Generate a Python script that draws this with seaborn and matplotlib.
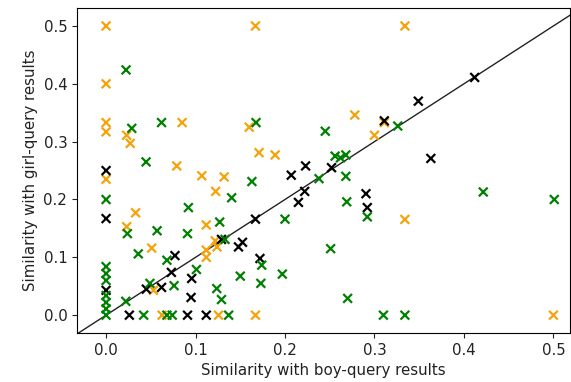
import matplotlib
matplotlib.use("Agg")
import matplotlib.pyplot as plt
import seaborn as sns
import pandas as pd

# Orange group
orange_x = [0, 0.167, 0.334, 0, 0, 0, 0.023, 0.027, 0.085, 0.16, 0.278, 0.311, 0.30,
            0.171, 0.189, 0.079, 0, 0.107, 0.132, 0.1225, 0.033, 0.023, 0.112, 0.051,
            0.122, 0.124, 0.112, 0.112, 0.053, 0.334, 0.0626, 0.1257, 0.167, 0.5]
orange_y = [0.5, 0.5, 0.5, 0.4, 0.333, 0.317, 0.311, 0.297, 0.333, 0.325, 0.346, 0.333, 0.311,
            0.281, 0.277, 0.258, 0.235, 0.241, 0.239, 0.214, 0.177, 0.153, 0.156, 0.116,
            0.1285, 0.118, 0.1125, 0.1, 0.043, 0.1655, 0, 0, 0, 0]

# Black group
black_x = [0.412, 0.349, 0.311, 0.363, 0.223, 0.252, 0.207, 0, 0.222, 0.215, 0.2905, 0.292,
           0, 0.167, 0.129, 0.1525, 0.148, 0.172, 0.077, 0.073, 0.0957, 0.062, 0.045, 0,
           0.095, 0.026, 0.091, 0.112]
black_y = [0.411, 0.37, 0.336, 0.271, 0.258, 0.255, 0.242, 0.25, 0.214, 0.195, 0.21, 0.186,
           0.167, 0.166, 0.131, 0.126, 0.118, 0.098, 0.103, 0.074, 0.0635, 0.048, 0.045, 0.043,
           0.0306, 0, 0, 0]

# Green group
green_x = [0.0223, 0.0287, 0.062, 0.1676, 0.245, 0.326, 0.256, 0.262, 0.268, 0.0447, 0.268,
           0.238, 0.163, 0.1404, 0, 0.092, 0.269, 0.292, 0.4216, 0.501, 0.2, 0.127, 0.057,
           0.091, 0.0238, 0.133, 0.251, 0.036, 0.068, 0.101, 0.174, 0.15, 0.197, 0.173,
           0.049, 0.076, 0.1237, 0.129, 0.27, 0.022,
           0, 0, 0, 0, 0, 0, 0,
           0.042, 0.068, 0.074, 0.137, 0.31, 0.334]
green_y = [0.424, 0.323, 0.333, 0.333, 0.318, 0.327, 0.275, 0.272, 0.277, 0.265, 0.24,
           0.236, 0.231, 0.203, 0.2, 0.186, 0.196, 0.17, 0.213, 0.2, 0.166, 0.161, 0.146,
           0.141, 0.141, 0.131, 0.115, 0.106, 0.095, 0.079, 0.0865, 0.0675, 0.071, 0.055,
           0.055, 0.051, 0.046, 0.027, 0.029, 0.024,
           0.084, 0.072, 0.06, 0.034, 0.022, 0.011, 0,
           0, 0, 0, 0, 0, 0]

groups = ["orange", "black", "green"]
palette = {"orange": "#f5a30c", "black": "black", "green": "green"}

df = pd.concat([
    pd.DataFrame({"boy": orange_x, "girl": orange_y, "group": "orange"}),
    pd.DataFrame({"boy": black_x, "girl": black_y, "group": "black"}),
    pd.DataFrame({"boy": green_x, "girl": green_y, "group": "green"}),
], ignore_index=True)

fig, ax = plt.subplots(figsize=(5.71, 3.82), dpi=100)
fig.subplots_adjust(left=0.135, right=0.998, bottom=0.128, top=0.979)

xlim = (-0.0324, 0.5184)
ylim = (-0.031, 0.531)
ax.plot([-0.1, 0.6], [-0.1, 0.6], color="#222222", lw=1.0, zorder=1)

sns.scatterplot(data=df, x="boy", y="girl", hue="group", hue_order=groups,
                palette=palette, marker="x", s=40, linewidth=1.6, legend=False,
                ax=ax, zorder=2)

ax.set_xlim(*xlim)
ax.set_ylim(*ylim)
ax.set_xticks([0.0, 0.1, 0.2, 0.3, 0.4, 0.5])
ax.set_yticks([0.0, 0.1, 0.2, 0.3, 0.4, 0.5])
ax.tick_params(labelsize=10.8, colors="#222222")
ax.set_xlabel("Similarity with boy-query results", fontsize=10.8, color="#222222")
ax.set_ylabel("Similarity with girl-query results", fontsize=10.8, color="#222222")

fig.savefig("out.png", dpi=100)
